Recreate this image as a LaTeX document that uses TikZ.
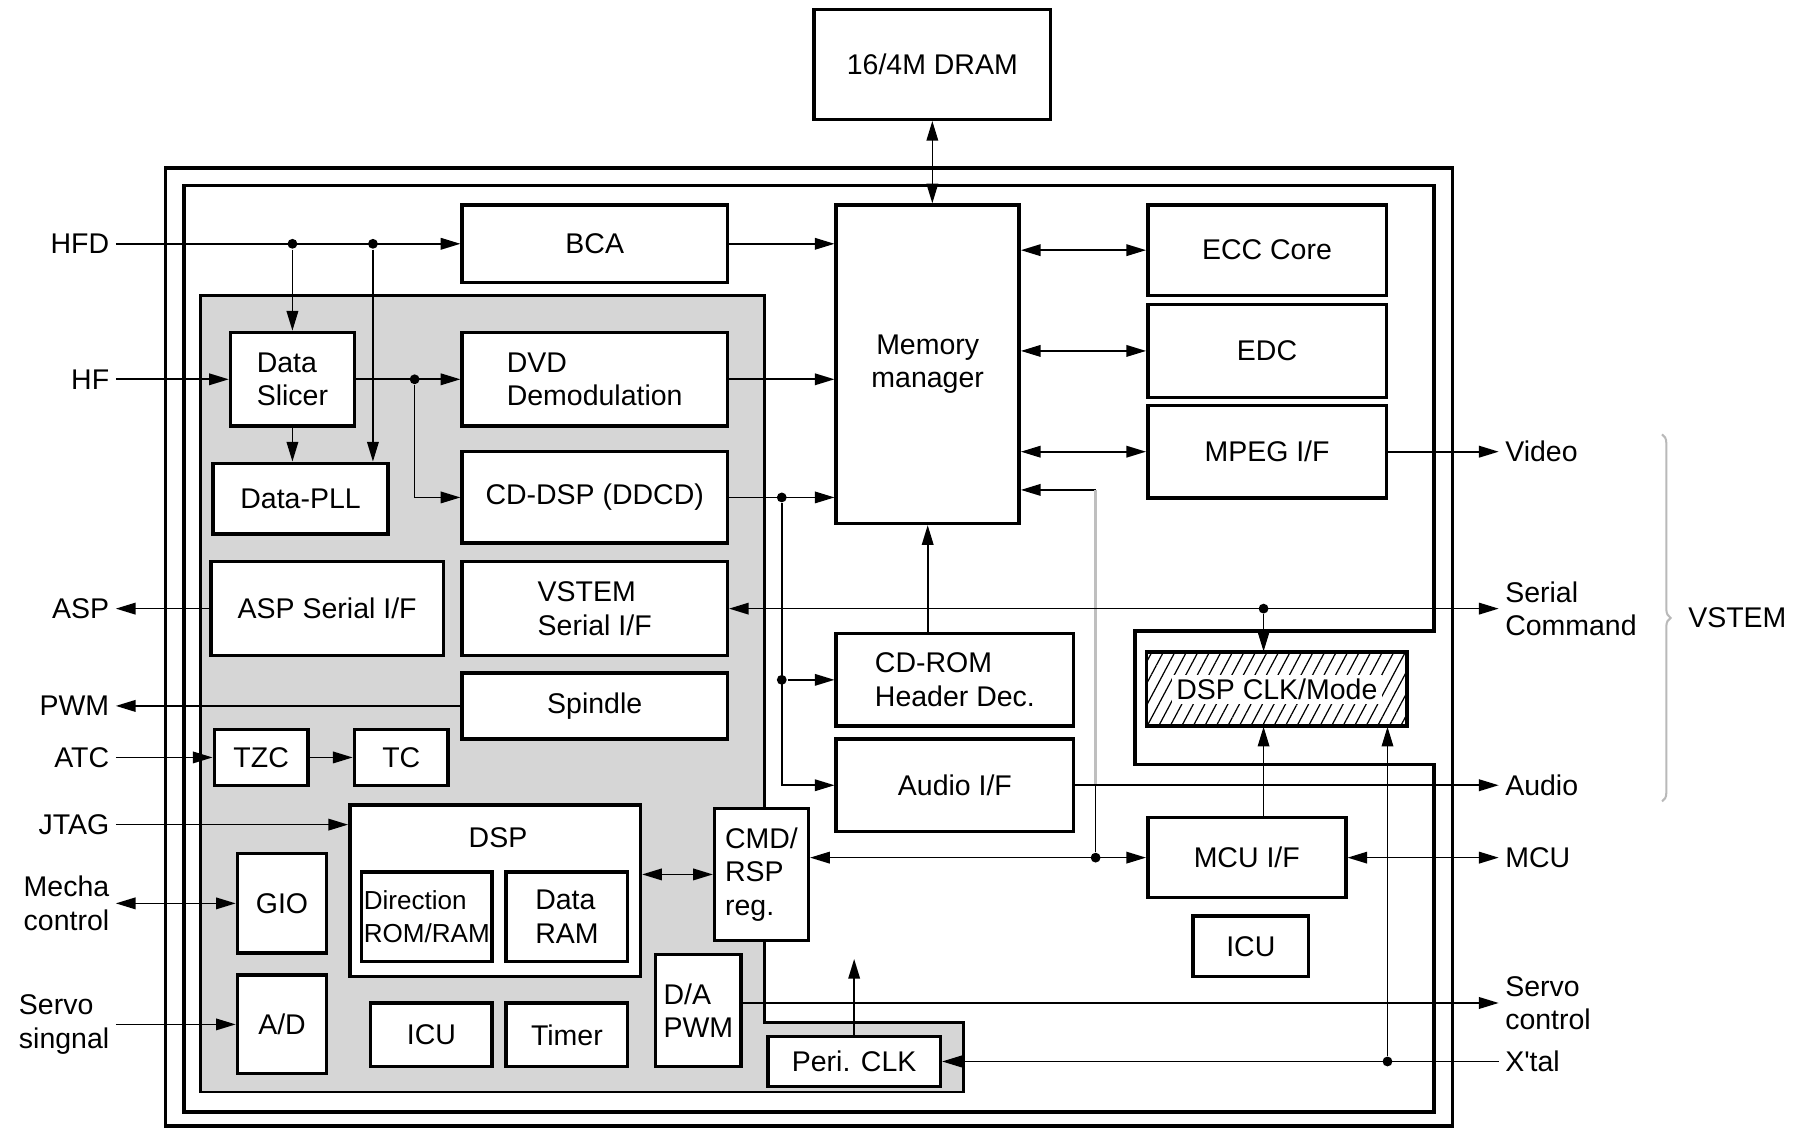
\documentclass[tikz,border=0pt]{standalone}
\usepackage{fontspec}
\setmainfont{Liberation Sans}
\usetikzlibrary{arrows.meta, patterns.meta, decorations.pathreplacing}
\definecolor{dspgray}{RGB}{214,214,214}
\newcommand{\blkfont}{\fontsize{14}{16.5}\selectfont}

\begin{document}
\begin{tikzpicture}[x=0.02cm, y=-0.02cm, >={Triangle[length=0.34cm,width=0.2cm]},
    line width=0.8pt, font=\blkfont,
    blk/.style={draw, line width=1.7pt, fill=white, inner sep=0pt},
    lft/.style={anchor=east, inner sep=0.1cm},
    rgt/.style={anchor=west, inner sep=0.1cm, align=left},
    dot/.style={circle, fill, inner sep=0pt, minimum size=0.17cm}]
\useasboundingbox (0,0) rectangle (1568,974);

% frames and DSP area
\draw[line width=1.8pt] (143,145) rectangle (1254,972);
\draw[line width=1.7pt] (159,160) -- (1238,160) -- (1238,545) -- (980,545) -- (980,660)
  -- (1238,660) -- (1238,960) -- (159,960) -- cycle;
\draw[line width=1.2pt, fill=dspgray] (173,255) -- (660,255) -- (660,883) -- (832,883)
  -- (832,943) -- (173,943) -- cycle;

% blocks
\node[blk, minimum width=4.08cm, minimum height=1.90cm] (dram) at (805,55.5) {16/4M DRAM};
\node[blk, minimum width=4.58cm, minimum height=1.34cm] (bca) at (513.5,210.5) {BCA};
\node[blk, minimum width=3.16cm, minimum height=5.50cm, align=center] (mm) at (801,314.5) {Memory\\manager};
\node[blk, minimum width=4.12cm, minimum height=1.56cm] (ecc) at (1094,216) {ECC Core};
\node[blk, minimum width=4.12cm, minimum height=1.60cm] (edc) at (1094,303) {EDC};
\node[blk, minimum width=4.12cm, minimum height=1.60cm] (mpeg) at (1094,390) {MPEG I/F};
\node[blk, minimum width=2.14cm, minimum height=1.62cm, align=left] (slicer) at (252.5,327.5) {Data\\Slicer};
\node[blk, minimum width=4.58cm, minimum height=1.62cm, align=left] (dvd) at (513.5,327.5) {DVD\\Demodulation};
\node[blk, minimum width=3.02cm, minimum height=1.22cm] (pll) at (259.5,430.5) {Data-PLL};
\node[blk, minimum width=4.58cm, minimum height=1.58cm] (cddsp) at (513.5,429.5) {CD-DSP (DDCD)};
\node[blk, minimum width=4.02cm, minimum height=1.62cm] (aspif) at (282.5,525.5) {ASP Serial I/F};
\node[blk, minimum width=4.58cm, minimum height=1.62cm, align=left] (vstemif) at (513.5,525.5) {VSTEM\\Serial I/F};
\node[blk, minimum width=4.58cm, minimum height=1.14cm] (spindle) at (513.5,609.5) {Spindle};
\node[blk, minimum width=1.62cm, minimum height=0.96cm] (tzc) at (225.5,654) {TZC};
\node[blk, minimum width=1.62cm, minimum height=0.96cm] (tc) at (346.5,654) {TC};
\node[blk, minimum width=5.02cm, minimum height=2.96cm] (dsp) at (427.5,769) {};
\node (dsptitle) at (430,723) {DSP};
\node[blk, minimum width=2.26cm, minimum height=1.54cm, align=left,
  font=\fontsize{12.8}{16.5}\selectfont] (dirrom) at (368.5,791.5) {Direction\\ROM/RAM};
\node[blk, minimum width=2.10cm, minimum height=1.54cm, align=left] (dataram) at (489.5,791.5) {Data\\RAM};
\node[blk, minimum width=1.54cm, minimum height=1.72cm] (gio) at (243.5,780) {GIO};
\node[blk, minimum width=1.54cm, minimum height=1.70cm] (ad) at (243.5,884.5) {A/D};
\node[blk, minimum width=2.10cm, minimum height=1.10cm] (icul) at (372.5,893.5) {ICU};
\node[blk, minimum width=2.10cm, minimum height=1.10cm] (timer) at (489.5,893.5) {Timer};
\node[blk, minimum width=1.48cm, minimum height=1.94cm, align=left] (dapwm) at (603,872.5) {D/A\\PWM};
\node[blk, minimum width=1.62cm, minimum height=2.28cm, align=left] (cmd) at (657.5,755) {CMD/\\RSP\\reg.};
\node[blk, minimum width=2.98cm, minimum height=0.86cm] (peri) at (737.5,916.5) {Peri. CLK};
\node[blk, minimum width=4.10cm, minimum height=1.60cm, align=left] (cdrom) at (824.5,587) {CD-ROM\\Header Dec.};
\node[blk, minimum width=4.10cm, minimum height=1.60cm] (audioif) at (824.5,678) {Audio I/F};
\node[blk, minimum width=4.50cm, minimum height=1.28cm, preaction={fill=white},
  pattern={Lines[angle=62, distance=5pt, line width=0.6pt]}] (dspclk) at (1102.5,595) {};
\node[fill=white, inner sep=2pt] (dspclktxt) at (dspclk) {DSP CLK/Mode};
\node[blk, minimum width=3.42cm, minimum height=1.38cm] (mcuif) at (1076.5,740.5) {MCU I/F};
\node[blk, minimum width=2.00cm, minimum height=1.04cm] (icur) at (1080,817) {ICU};

% pins
\node[lft] (hfd) at (100,210.5) {HFD};
\node[lft] (hf) at (100,327.5) {HF};
\node[lft] (asp) at (100,525.5) {ASP};
\node[lft] (pwm) at (100,609.5) {PWM};
\node[lft] (atc) at (100,654) {ATC};
\node[lft] (jtag) at (100,712) {JTAG};
\node[lft, align=right] (mecha) at (100,780) {Mecha\\control};
\node[lft, align=left] (servo) at (100,884.5) {Servo\\singnal};
\node[rgt] (video) at (1294,390) {Video};
\node[rgt] (serial) at (1294,525.5) {Serial\\Command};
\node[rgt] (audio) at (1294,678) {Audio};
\node[rgt] (mcu) at (1294,740.5) {MCU};
\node[rgt] (servoc) at (1294,866) {Servo\\control};
\node[rgt] (xtal) at (1294,916.5) {X\textquotesingle tal};
\node[rgt] (vstem) at (1452,533) {VSTEM};
\draw[gray!55, line width=1pt, decorate, decoration={brace, amplitude=0.15cm}]
  (1435,375) -- (1435,692);

% read channel
\coordinate (pllx) at (322,0);
\draw[->] (hfd.east) -- (hfd.east -| bca.west);
\node[dot] (j1) at (slicer.north |- hfd.east) {};
\node[dot] (j2) at (pllx |- hfd.east) {};
\draw[->] (j1) -- (slicer.north);
\draw[->] (j2) -- (j2 |- pll.north);
\draw[->] (hf.east) -- (hf.east -| slicer.west);
\draw[->] (slicer.south) -- (slicer.south |- pll.north);
\draw[->] (slicer.east) -- (dvd.west);
\node[dot] (j3) at (358,327.5) {};
\draw[->] (j3) |- (cddsp.west);

% into memory manager
\draw[->] (bca.east) -- (bca.east -| mm.west);
\draw[->] (dvd.east) -- (dvd.east -| mm.west);
\draw[->] (cddsp.east) -- (cddsp.east -| mm.west);
\node[dot] (j4) at (675,429.5) {};
\node[dot] (j5) at (j4 |- cdrom.west) {};
\draw[->] (j5) -- (cdrom.west);
\draw[->] (j4) |- (audioif.west);
\draw[->] (mm.south |- cdrom.north) -- (mm.south);
\draw[<->] (dram.south) -- (dram.south |- mm.north);
\draw[<->] (mm.east |- ecc.west) -- (ecc.west);
\draw[<->] (mm.east |- edc.west) -- (edc.west);
\draw[<->] (mm.east |- mpeg.west) -- (mpeg.west);
\draw[->] (mpeg.east) -- (mpeg.east -| video.west);

% host side
\coordinate (fbk) at (946,423);
\coordinate (clkx) at (1091,0);
\coordinate (xtx) at (1198,0);
\draw[->] (fbk) -- (fbk -| mm.east);
\draw[gray!50, line width=1.2pt] (fbk) -- (fbk |- audioif.east);
\draw[<->] (vstemif.east) -- (vstemif.east -| serial.west);
\node[dot] (j7) at (clkx |- vstemif.east) {};
\draw[->] (j7) -- (clkx |- dspclk.north);
\draw[->] (clkx |- mcuif.north) -- (clkx |- dspclk.south);
\draw[->] (audioif.east) -- (audioif.east -| audio.west);
\draw[<->] (cmd.east |- mcuif.west) -- (mcuif.west);
\node[dot] (j6) at (fbk |- mcuif.west) {};
\draw (fbk |- audioif.east) -- (j6);
\draw[<->] (mcuif.east) -- (mcuif.east -| mcu.west);
\draw[<->] (dsp.east |- cmd.west) -- (cmd.west);
\draw[->] (servoc.west -| dapwm.east) -- (servoc.west);
\draw[->] (xtal.west) -- (peri.east);
\node[dot] (j8) at (xtx |- xtal.west) {};
\draw[->] (j8) -- (xtx |- dspclk.south);
\coordinate (periup) at (737,828);
\draw[->] (peri.north) -- (peri.north |- periup);

% servo side
\draw[->] (aspif.west) -- (aspif.west -| asp.east);
\draw[->] (spindle.west) -- (spindle.west -| pwm.east);
\draw[->] (atc.east) -- (atc.east -| tzc.west);
\draw[->] (tzc) -- (tc);
\draw[->] (jtag.east) -- (jtag.east -| dsp.west);
\draw[<->] (mecha.east) -- (mecha.east -| gio.west);
\draw[->] (servo.east) -- (servo.east -| ad.west);
\end{tikzpicture}
\end{document}
